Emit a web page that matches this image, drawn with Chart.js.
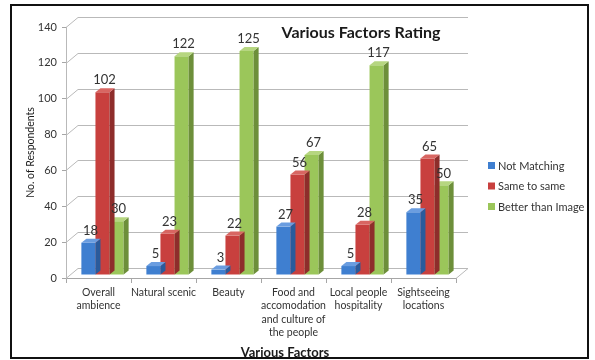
<!DOCTYPE html>
<html>
<head>
<meta charset="utf-8">
<script src="https://cdn.jsdelivr.net/npm/chart.js@4.4.0/dist/chart.umd.min.js"></script>
<style>
  html, body { margin: 0; padding: 0; background: #fff; overflow: hidden; }
  #wrap { width: 595px; height: 372px; }
</style>
</head>
<body>
<div id="wrap"><canvas id="factorChart" width="595" height="372"></canvas></div>
<script>
// 카테고리 / 시리즈 데이터
const factors = [
    ['Overall', 'ambience'],
    ['Natural scenic'],
    ['Beauty'],
    ['Food and', 'accomodation', 'and culture of', 'the people'],
    ['Local people', 'hospitality'],
    ['Sightseeing', 'locations']
];
const notMatching = [18, 5, 3, 27, 5, 35];
const sameToSame = [102, 23, 22, 56, 28, 65];
const betterThanImage = [30, 122, 125, 67, 117, 50];
const seriesNames = ['Not Matching', 'Same to same', 'Better than Image'];
const yMax = 140;
const yStep = 20;

const FONT = 'Lato, "Open Sans", sans-serif';
const frontColors = ['#3f7fd0', '#c8403e', '#9bc65a'];
const sideColors = ['#2a5b9c', '#8e2d2b', '#6d8f3a'];
const topColors = ['#6a9de0', '#d86662', '#b6d680'];

// 뒷벽 깊이, 막대 위치(중간 깊이), 막대 두께
const WALL_DX = 12, WALL_DY = -10;
const MID_DX = 4, MID_DY = -3;
const BAR_DX = 5, BAR_DY = -4;

// 뒷벽 격자선 + 바닥
const wallPlugin = {
    id: 'wall',
    beforeDatasetsDraw(chart) {
        const { ctx, chartArea: a, scales: { y } } = chart;
        ctx.save();
        ctx.strokeStyle = '#b9b9b9';
        ctx.lineWidth = 1;
        y.ticks.forEach(t => {
            const py = Math.round(y.getPixelForValue(t.value)) + 0.5;
            ctx.beginPath();
            ctx.moveTo(a.left, py);
            ctx.lineTo(a.left + WALL_DX, py + WALL_DY);
            ctx.lineTo(a.right + WALL_DX, py + WALL_DY);
            ctx.stroke();
        });
        const y0 = Math.round(y.getPixelForValue(0)) + 0.5;
        ctx.beginPath();
        ctx.moveTo(a.right, y0);
        ctx.lineTo(a.right + WALL_DX, y0 + WALL_DY);
        ctx.stroke();
        ctx.restore();
    }
};

// 막대는 바닥 중간 깊이로 옮겨서 그림 + 옆면/윗면
const bar3dPlugin = {
    id: 'bar3d',
    beforeDatasetDraw(chart) {
        chart.ctx.save();
        chart.ctx.translate(MID_DX, MID_DY);
    },
    afterDatasetDraw(chart, args) {
        const { ctx } = chart;
        const i = args.index;
        args.meta.data.forEach(bar => {
            const { x, y, base, width } = bar.getProps(['x', 'y', 'base', 'width'], true);
            const l = x - width / 2, r = x + width / 2;
            ctx.fillStyle = sideColors[i];
            ctx.beginPath();
            ctx.moveTo(r, y);
            ctx.lineTo(r + BAR_DX, y + BAR_DY);
            ctx.lineTo(r + BAR_DX, base + BAR_DY);
            ctx.lineTo(r, base);
            ctx.closePath();
            ctx.fill();
            ctx.fillStyle = topColors[i];
            ctx.beginPath();
            ctx.moveTo(l, y);
            ctx.lineTo(l + BAR_DX, y + BAR_DY);
            ctx.lineTo(r + BAR_DX, y + BAR_DY);
            ctx.lineTo(r, y);
            ctx.closePath();
            ctx.fill();
        });
        ctx.restore();
    }
};

// 값 라벨
const valueLabelPlugin = {
    id: 'valueLabels',
    afterDatasetsDraw(chart) {
        const { ctx } = chart;
        ctx.save();
        ctx.font = '13px ' + FONT;
        ctx.fillStyle = '#333';
        ctx.textAlign = 'center';
        ctx.textBaseline = 'middle';
        chart.data.datasets.forEach((ds, i) => {
            chart.getDatasetMeta(i).data.forEach((bar, j) => {
                ctx.fillText(String(ds.data[j]), bar.x + MID_DX + 2, bar.y + MID_DY - 12);
            });
        });
        ctx.restore();
    }
};

// 제목, 축 제목, 범례, 테두리
const frameLegendPlugin = {
    id: 'frameLegend',
    afterDraw(chart) {
        const { ctx } = chart;
        ctx.save();
        ctx.font = 'bold 16px ' + FONT;
        ctx.fillStyle = '#1a1a1a';
        ctx.textAlign = 'center';
        ctx.textBaseline = 'middle';
        ctx.fillText('Various Factors Rating', 361, 33);

        ctx.font = 'bold 13px ' + FONT;
        ctx.fillText('Various Factors', 285, 353);

        ctx.font = '11px ' + FONT;
        ctx.textAlign = 'left';
        chart.data.datasets.forEach((ds, i) => {
            const cy = 166 + i * 20.5;
            ctx.fillStyle = frontColors[i];
            ctx.fillRect(488, cy - 4, 7, 7);
            ctx.fillStyle = '#333';
            ctx.fillText(ds.label, 498, cy);
        });

        ctx.strokeStyle = '#111';
        ctx.lineWidth = 2;
        ctx.strokeRect(11, 5, 577, 353);
        ctx.restore();
    }
};

const ctx = document.getElementById('factorChart');
new Chart(ctx, {
    type: 'bar',
    data: {
        labels: factors,
        datasets: [
            { label: seriesNames[0], data: notMatching, backgroundColor: frontColors[0] },
            { label: seriesNames[1], data: sameToSame, backgroundColor: frontColors[1] },
            { label: seriesNames[2], data: betterThanImage, backgroundColor: frontColors[2] }
        ]
    },
    options: {
        responsive: false,
        animation: false,
        layout: { padding: { left: 16, right: 139, top: 27, bottom: 0 } },
        datasets: { bar: { categoryPercentage: 0.65, barPercentage: 1.0 } },
        plugins: {
            legend: { display: false },
            title: { display: false },
            tooltip: { enabled: false }
        },
        scales: {
            x: {
                grid: { drawOnChartArea: false, tickLength: 5, color: '#a6a6a6' },
                border: { color: '#a6a6a6' },
                ticks: {
                    color: '#333',
                    font: { family: FONT, size: 10.5, lineHeight: 1.27 },
                    padding: 3,
                    maxRotation: 0,
                    autoSkip: false
                },
                afterFit(scale) { scale.height = 94; }
            },
            y: {
                min: 0,
                max: yMax,
                ticks: {
                    stepSize: yStep,
                    color: '#333',
                    font: { family: FONT, size: 11 },
                    padding: 5
                },
                grid: { drawOnChartArea: false, tickLength: 4, color: '#a6a6a6' },
                border: { color: '#b9b9b9' },
                title: {
                    display: true,
                    text: 'No. of Respondents',
                    color: '#1a1a1a',
                    font: { family: FONT, size: 10.5 },
                    padding: { top: 8, bottom: 0 }
                },
                afterFit(scale) { scale.width = 50; }
            }
        }
    },
    plugins: [wallPlugin, bar3dPlugin, valueLabelPlugin, frameLegendPlugin]
});
</script>
</body>
</html>
